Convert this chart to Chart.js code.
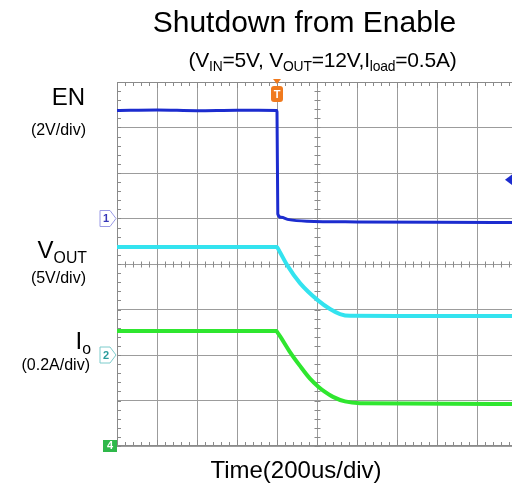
<!DOCTYPE html>
<html>
<head>
<meta charset="utf-8">
<script src="https://cdn.jsdelivr.net/npm/chart.js@4/dist/chart.umd.min.js"></script>
<style>
    html, body { margin: 0; padding: 0; background: #fff; overflow: hidden; width: 512px; height: 484px; }
    #wrap { position: absolute; left: 0; top: 0; width: 540px; height: 484px; }
    .lbl { position: absolute; font-family: "Liberation Sans", Arial, sans-serif; color: #000; line-height: 1; white-space: nowrap; }
    .r { left: 0; text-align: right; }
    .sub { font-size: 0.66em; position: relative; top: 0.3em; }
</style>
</head>
<body>
<div id="wrap"><canvas id="scope" width="540" height="484"></canvas></div>

<div class="lbl" style="left:0;width:609px;text-align:center;top:7px;font-size:30px;">Shutdown from Enable</div>
<div class="lbl" style="left:0;width:645px;text-align:center;top:49px;font-size:21px;letter-spacing:-0.2px;">(V<span class="sub">IN</span>=5V, V<span class="sub">OUT</span>=12V,I<span class="sub">load</span>=0.5A)</div>

<div class="lbl r" style="width:85px;top:85px;font-size:24px;">EN</div>
<div class="lbl r" style="width:86px;top:122px;font-size:16px;">(2V/div)</div>
<div class="lbl r" style="width:87px;top:238px;font-size:24px;">V<span class="sub">OUT</span></div>
<div class="lbl r" style="width:86px;top:270px;font-size:16px;">(5V/div)</div>
<div class="lbl r" style="width:91px;top:329px;font-size:24px;">I<span class="sub">o</span></div>
<div class="lbl r" style="width:90px;top:357px;font-size:16px;">(0.2A/div)</div>

<div class="lbl" style="left:0;width:592px;text-align:center;top:458px;font-size:24px;">Time(200us/div)</div>

<script>
// time axis in us, trigger at 0, 200us/div
const timeMin = -800;
const timeMax = 1200;

// CH1 EN (2V/div), ground 5 div above bottom
const enTime = [-800, -600, -400, -200, -2, 0, 4, 20, 60, 150, 400, 800, 1200];
const enVolts = [4.75, 4.77, 4.74, 4.76, 4.75, 4.7, 0.2, 0.05, -0.05, -0.12, -0.15, -0.17, -0.18];

// CH2 VOUT (5V/div), ground 2 div above bottom
const voutTime = [-800, -400, -2, 0, 15, 50, 115, 205, 265, 315, 365, 600, 1200];
const voutVolts = [11.87, 11.88, 11.87, 11.85, 11.3, 9.9, 7.9, 6.0, 5.05, 4.5, 4.3, 4.28, 4.28];

// CH4 Io (0.2A/div), ground at bottom
const ioTime = [-800, -400, -2, 0, 15, 65, 115, 165, 205, 240, 280, 340, 415, 1200];
const ioAmps = [0.505, 0.506, 0.505, 0.502, 0.483, 0.413, 0.352, 0.296, 0.262, 0.238, 0.216, 0.196, 0.188, 0.185];

const trigLevel = 1.7;

function pts(xs, ys) {
    return xs.map((x, i) => ({ x: x, y: ys[i] }));
}

const gridColor = '#9c9c9c';
const frameColor = '#8a8a8a';

const scopeDecor = {
    id: 'scopeDecor',
    beforeDatasetsDraw(chart) {
        const { ctx, chartArea: a, scales } = chart;
        const sx = scales.x, sg = scales.y;
        ctx.save();
        ctx.strokeStyle = frameColor;
        ctx.lineWidth = 1;
        ctx.beginPath();
        ctx.moveTo(a.left + 0.5, a.top); ctx.lineTo(a.left + 0.5, a.bottom);
        ctx.moveTo(a.left, a.top + 0.5); ctx.lineTo(a.right, a.top + 0.5);
        ctx.moveTo(a.left, a.bottom - 0.5); ctx.lineTo(a.right, a.bottom - 0.5);
        ctx.stroke();

        // minor ticks, 5 per division
        const cy = Math.round(sg.getPixelForValue(4)) + 0.5;
        const cx = Math.round(sx.getPixelForValue(200)) + 0.5;
        ctx.beginPath();
        for (let t = timeMin; t <= timeMax; t += 40) {
            const px = Math.round(sx.getPixelForValue(t)) + 0.5;
            const big = (t % 200 === 0) ? 2 : 0;
            ctx.moveTo(px, a.top); ctx.lineTo(px, a.top + 4 + big);
            ctx.moveTo(px, a.bottom); ctx.lineTo(px, a.bottom - 4 - big);
            ctx.moveTo(px, cy - 3); ctx.lineTo(px, cy + 3);
        }
        for (let d = 0; d <= 8.001; d += 0.2) {
            const py = Math.round(sg.getPixelForValue(d)) + 0.5;
            ctx.moveTo(a.left, py); ctx.lineTo(a.left + 4, py);
            ctx.moveTo(cx - 3, py); ctx.lineTo(cx + 3, py);
        }
        ctx.stroke();
        ctx.restore();
    },
    afterDraw(chart) {
        const { ctx, chartArea: a, scales } = chart;
        ctx.save();
        ctx.font = 'bold 11px "Liberation Sans", Arial, sans-serif';
        ctx.textAlign = 'center';
        ctx.textBaseline = 'middle';

        function tag(y, stroke, text, textColor) {
            ctx.beginPath();
            ctx.moveTo(a.left - 17, y - 8);
            ctx.lineTo(a.left - 7, y - 8);
            ctx.lineTo(a.left - 1, y);
            ctx.lineTo(a.left - 7, y + 8);
            ctx.lineTo(a.left - 17, y + 8);
            ctx.closePath();
            ctx.fillStyle = '#fff';
            ctx.fill();
            ctx.strokeStyle = stroke;
            ctx.lineWidth = 1;
            ctx.stroke();
            ctx.fillStyle = textColor;
            ctx.fillText(text, a.left - 11, y + 0.5);
        }
        tag(scales.yEN.getPixelForValue(0), '#9a9ae6', '1', '#3838b8');
        tag(scales.yV.getPixelForValue(0), '#7ccccc', '2', '#2a9c9c');

        // CH4 ground marker
        const gy = scales.yI.getPixelForValue(0);
        ctx.fillStyle = '#2fb84a';
        ctx.fillRect(a.left - 14, gy - 6, 14, 12);
        ctx.fillStyle = '#fff';
        ctx.fillText('4', a.left - 7, gy);

        // trigger position
        const tx = scales.x.getPixelForValue(0);
        ctx.fillStyle = '#f07a1e';
        ctx.beginPath();
        ctx.moveTo(tx - 4, a.top - 3);
        ctx.lineTo(tx + 4, a.top - 3);
        ctx.lineTo(tx, a.top + 2);
        ctx.closePath();
        ctx.fill();
        ctx.beginPath();
        ctx.roundRect(tx - 6, a.top + 4, 12, 16, 3);
        ctx.fill();
        ctx.fillStyle = '#fff';
        ctx.fillText('T', tx, a.top + 12.5);

        // trigger level
        const ly = scales.yEN.getPixelForValue(trigLevel);
        ctx.fillStyle = '#1c2ccf';
        ctx.beginPath();
        ctx.moveTo(a.right - 12, ly);
        ctx.lineTo(a.right - 4, ly - 6);
        ctx.lineTo(a.right - 4, ly + 6);
        ctx.closePath();
        ctx.fill();
        ctx.restore();
    }
};

new Chart(document.getElementById('scope'), {
    type: 'line',
    data: {
        datasets: [
            {
                label: 'EN',
                data: pts(enTime, enVolts),
                yAxisID: 'yEN',
                borderColor: '#1c2ccf',
                borderWidth: 3,
                pointRadius: 0,
                cubicInterpolationMode: 'monotone'
            },
            {
                label: 'VOUT',
                data: pts(voutTime, voutVolts),
                yAxisID: 'yV',
                borderColor: '#33e3ef',
                borderWidth: 4,
                pointRadius: 0,
                cubicInterpolationMode: 'monotone'
            },
            {
                label: 'Io',
                data: pts(ioTime, ioAmps),
                yAxisID: 'yI',
                borderColor: '#2fe62f',
                borderWidth: 4,
                pointRadius: 0,
                cubicInterpolationMode: 'monotone'
            }
        ]
    },
    options: {
        responsive: false,
        animation: false,
        devicePixelRatio: 1,
        layout: {
            padding: { left: 117, top: 82, right: 23, bottom: 38 }
        },
        scales: {
            x: {
                type: 'linear',
                min: timeMin,
                max: timeMax,
                ticks: { display: false, stepSize: 200 },
                grid: { color: gridColor, lineWidth: 1, borderDash: [1, 8.1], drawTicks: false },
                border: { display: false },
                afterFit: (s) => { s.height = 0; }
            },
            y: {
                type: 'linear',
                min: 0,
                max: 8,
                ticks: { display: false, stepSize: 1 },
                grid: { color: gridColor, lineWidth: 1, borderDash: [1, 7], drawTicks: false },
                border: { display: false },
                afterFit: (s) => { s.width = 0; }
            },
            yEN: { type: 'linear', display: false, min: -10, max: 6 },
            yV: { type: 'linear', display: false, min: -10, max: 30 },
            yI: { type: 'linear', display: false, min: 0, max: 1.6 }
        },
        plugins: {
            legend: { display: false },
            tooltip: { enabled: false },
            title: { display: false }
        }
    },
    plugins: [scopeDecor]
});
</script>
</body>
</html>
